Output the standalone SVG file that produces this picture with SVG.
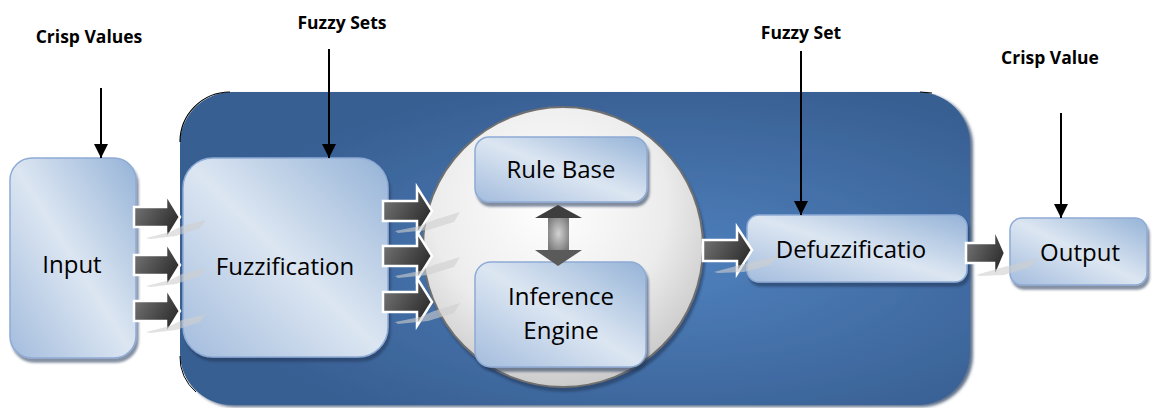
<svg xmlns="http://www.w3.org/2000/svg" width="1152" height="408" viewBox="0 0 1152 408">
  <defs>
    <!-- blue panel behind the processing stages -->
    <radialGradient id="panelFill" cx="0.62" cy="0.55" r="0.6">
      <stop offset="0" stop-color="#4f80bd"/>
      <stop offset="1" stop-color="#385f92"/>
    </radialGradient>
    <!-- glossy light-blue block fill -->
    <linearGradient id="blockFill" x1="0" y1="1" x2="1" y2="0">
      <stop offset="0" stop-color="#a3bcdd"/>
      <stop offset="0.5" stop-color="#dce6f2"/>
      <stop offset="1" stop-color="#95b3d7"/>
    </linearGradient>
    <!-- grey sphere holding rule base and inference engine -->
    <radialGradient id="sphereFill" cx="0.45" cy="0.35" r="0.7">
      <stop offset="0" stop-color="#ffffff"/>
      <stop offset="0.6" stop-color="#ececec"/>
      <stop offset="1" stop-color="#c4c4c4"/>
    </radialGradient>
    <!-- dark block arrows -->
    <linearGradient id="arrowFill" x1="0" y1="0" x2="1" y2="0.6">
      <stop offset="0" stop-color="#7c7c7c"/>
      <stop offset="1" stop-color="#2c2c2c"/>
    </linearGradient>
    <radialGradient id="shaftFill" cx="0.5" cy="0.5" r="0.6">
      <stop offset="0" stop-color="#d2d2d2"/>
      <stop offset="1" stop-color="#7a7a7a"/>
    </radialGradient>
    <filter id="shadow" x="-10%" y="-10%" width="125%" height="125%">
      <feDropShadow dx="2" dy="4" stdDeviation="1.2" flood-color="#1f3657" flood-opacity="0.55"/>
    </filter>
    <filter id="panelShadow" x="-5%" y="-5%" width="110%" height="110%">
      <feDropShadow dx="3" dy="2" stdDeviation="1.5" flood-color="#1f3657" flood-opacity="0.7"/>
    </filter>
    <marker id="tip" viewBox="0 0 10 10" refX="10" refY="5" markerWidth="7" markerHeight="7" markerUnits="strokeWidth" orient="auto">
      <path d="M0,0 L10,5 L0,10 z" fill="#000"/>
    </marker>
    <style>
      .block { fill: url(#blockFill); stroke: #8eabd5; stroke-width: 1.5; filter: url(#shadow); }
      .label { font-family: "Open Sans", "Liberation Sans", sans-serif; font-size: 24px; fill: #000; text-anchor: middle; }
      .caption { font-family: "Open Sans", "Liberation Sans", sans-serif; font-size: 17.5px; font-weight: bold; fill: #000; text-anchor: middle; }
      .flow { fill: url(#arrowFill); stroke: #ffffff; stroke-width: 2.5; stroke-linejoin: miter; }
      .glint { fill: #cfcfcf; opacity: 0.6; }
      .feed { stroke: #000; stroke-width: 2; fill: none; marker-end: url(#tip); }
    </style>
  </defs>

  <rect width="1152" height="408" fill="#ffffff"/>

  <!-- panel -->
  <g id="panel">
    <rect x="180" y="92" width="790" height="313" rx="52" fill="url(#panelFill)" filter="url(#panelShadow)"/>
    <path d="M180,142 A50,50 0 0 1 230,92" fill="none" stroke="#000" stroke-width="1.2"/>
    <path d="M920,92 L932,93" fill="none" stroke="#000" stroke-width="1.2"/>
    <path d="M180,356 A45,45 0 0 0 196,392" fill="none" stroke="#000" stroke-width="1"/>
  </g>

  <!-- sphere -->
  <g id="sphere">
    <circle cx="563" cy="247" r="140" fill="url(#sphereFill)" stroke="#6f6f6f" stroke-width="2" filter="url(#shadow)"/>
  </g>

  <g id="input">
    <rect class="block" x="10" y="158" width="126" height="200" rx="22"/>
    <text class="label" x="72" y="273">Input</text>
  </g>

  <g id="fuzzification">
    <rect class="block" x="183" y="158" width="205" height="199" rx="30"/>
    <text class="label" x="285" y="275">Fuzzification</text>
  </g>

  <g id="rule-base">
    <rect class="block" x="475" y="137" width="172" height="65" rx="14"/>
    <text class="label" x="561" y="178">Rule Base</text>
  </g>

  <g id="inference-engine">
    <rect class="block" x="475" y="262" width="171" height="105" rx="16"/>
    <text class="label" x="561" y="305">Inference</text>
    <text class="label" x="561" y="339">Engine</text>
  </g>

  <g id="defuzzification">
    <rect class="block" x="747" y="215" width="220" height="67" rx="12"/>
    <text class="label" x="851" y="258">Defuzzificatio</text>
  </g>

  <g id="output">
    <rect class="block" x="1010" y="218" width="137" height="67" rx="12"/>
    <text class="label" x="1080" y="261">Output</text>
  </g>

  <!-- connectors -->
  <g id="connectors">
    <!-- input to fuzzification -->
    <polygon class="flow" points="134,207 166,207 166,194 180,217 166,240 166,227 134,227"/>
    <polygon class="flow" points="134,255 166,255 166,242 180,265 166,288 166,275 134,275"/>
    <polygon class="flow" points="134,301 166,301 166,288 180,311 166,334 166,321 134,321"/>
    <polygon class="glint" points="146,238 170,232 182,226 206,220 200,228 176,236 150,239"/>
    <polygon class="glint" points="146,286 170,280 182,274 206,268 200,276 176,284 150,287"/>
    <polygon class="glint" points="146,332 170,326 182,320 206,314 200,322 176,330 150,333"/>

    <!-- fuzzification to sphere -->
    <polygon class="flow" points="383,201 417,201 417,187 432,211 417,235 417,221 383,221"/>
    <polygon class="flow" points="383,246 417,246 417,232 432,256 417,280 417,266 383,266"/>
    <polygon class="flow" points="383,292 417,292 417,278 432,302 417,326 417,312 383,312"/>
    <polygon class="glint" points="395,231 420,226 434,220 460,212 454,222 428,230 398,233"/>
    <polygon class="glint" points="395,276 420,271 434,265 460,257 454,267 428,275 398,278"/>
    <polygon class="glint" points="395,322 420,317 434,311 460,303 454,313 428,321 398,324"/>

    <!-- rule base to/from inference engine -->
    <g id="exchange">
      <rect x="548" y="216" width="21" height="35" fill="url(#shaftFill)"/>
      <polygon points="558,205 582,218 535,218" fill="#3e3e3e"/>
      <polygon points="535,250 582,250 558,266" fill="#5a5a5a"/>
    </g>

    <!-- sphere to defuzzification -->
    <polygon class="flow" points="703,240 737,240 737,227 752,250 737,274 737,261 703,261"/>
    <polygon class="glint" points="714,272 740,265 752,262 778,256 770,265 744,272 718,273"/>

    <!-- defuzzification to output -->
    <polygon class="flow" points="966,243 994,243 994,228 1005,253 994,279 994,263 966,263"/>
    <polygon class="glint" points="976,275 1000,268 1012,265 1038,258 1030,267 1004,275 980,276"/>

    <!-- feeds from the captions -->
    <line class="feed" x1="101" y1="88" x2="101" y2="158"/>
    <line class="feed" x1="329" y1="49" x2="329" y2="158"/>
    <line class="feed" x1="801" y1="51" x2="801" y2="215"/>
    <line class="feed" x1="1061" y1="113" x2="1061" y2="218"/>
  </g>

  <!-- captions -->
  <g id="captions">
    <text class="caption" x="89" y="43">Crisp Values</text>
    <text class="caption" x="342" y="29">Fuzzy Sets</text>
    <text class="caption" x="801" y="39">Fuzzy Set</text>
    <text class="caption" x="1050" y="64">Crisp Value</text>
  </g>
</svg>
